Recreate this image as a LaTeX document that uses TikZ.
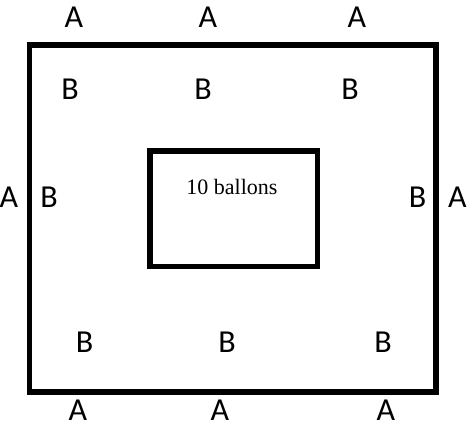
\documentclass[tikz,border=0pt]{standalone}
\usepackage{fontspec}
\setmainfont{Liberation Serif}
\newfontfamily\labfont{Carlito}
\begin{document}
\begin{tikzpicture}[x=1pt,y=-1pt,
  box/.style={draw=black,line width=5.5pt,inner sep=0pt,fill=none},
  lab/.style={font=\labfont\fontsize{32}{36}\selectfont,anchor=base,inner sep=0pt},
  captext/.style={font=\fontsize{22}{26}\selectfont,anchor=base,inner sep=0pt}]
\fill[white] (0,0) rectangle (475,427);
\useasboundingbox (0,0) rectangle (475,427);
\node[box,minimum width=406.5pt,minimum height=347pt] (outer) at (232.75,218.5) {};
\node[box,minimum width=167.5pt,minimum height=115.5pt] (inner) at (233.75,208.75) {};
\node[captext] (t) at (232,195) {10 ballons};
% A labels
\node[lab] (a1) at (74,28) {A};
\node[lab] (a2) at (208,28) {A};
\node[lab] (a3) at (357,28) {A};
\node[lab] (a4) at (9,208) {A};
\node[lab] (a5) at (457.5,208) {A};
\node[lab] (a6) at (78,421) {A};
\node[lab] (a7) at (220,421) {A};
\node[lab] (a8) at (386,421) {A};
% B labels
\node[lab] (b1) at (70,100) {B};
\node[lab] (b2) at (203,100) {B};
\node[lab] (b3) at (350,100) {B};
\node[lab] (b4) at (49,208) {B};
\node[lab] (b5) at (417.5,208) {B};
\node[lab] (b6) at (84.5,353) {B};
\node[lab] (b7) at (227,353) {B};
\node[lab] (b8) at (383,353) {B};
\end{tikzpicture}
\end{document}
